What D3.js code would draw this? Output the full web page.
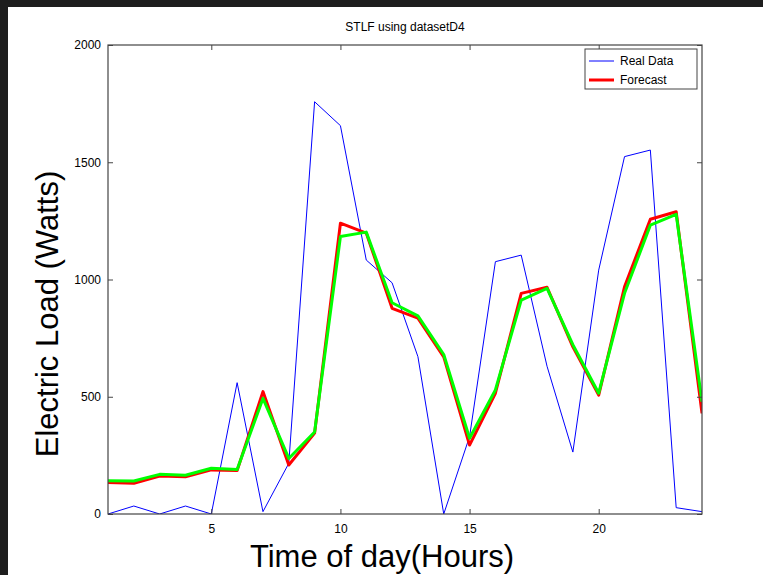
<!DOCTYPE html>
<html>
<head>
<meta charset="utf-8">
<script src="https://cdn.jsdelivr.net/npm/d3@7"></script>
<style>
  html, body { margin: 0; padding: 0; background: #1e1e1e; }
  #chart { display: block; }
  text { font-family: "Liberation Sans", Arial, sans-serif; fill: #000; }
</style>
</head>
<body>
<svg id="chart" width="763" height="575"></svg>
<script>
// STLF line chart: real load vs two forecasts, hours 1..24.

const hours = d3.range(1, 25);
const realData = [0, 34, 0, 34, 0, 560, 10, 216, 1758, 1656, 1083, 986,
                  671, 0, 330, 1076, 1104, 630, 264, 1040, 1524, 1552, 27, 10];
const forecast = [134, 131, 162, 159, 188, 185, 522, 209, 345, 1240, 1198, 877,
                  835, 670, 294, 515, 941, 967, 713, 507, 969, 1257, 1289, 429];
const forecast2 = [142, 141, 169, 165, 195, 190, 493, 237, 350, 1183, 1202, 901,
                   845, 680, 323, 529, 912, 962, 722, 515, 941, 1232, 1278, 479];
const xTicks = [5, 10, 15, 20];
const yTicks = [0, 500, 1000, 1500, 2000];

const svg = d3.select('#chart');
const W = 763, H = 575;

// light page with the dark frame strip on top / left
svg.append('rect').attr('x', 8).attr('y', 7).attr('width', W - 8).attr('height', H - 7).attr('fill', '#fff');

const m = { left: 108, right: 702, top: 45, bottom: 514 };
const x = d3.scaleLinear().domain([1, 24]).range([m.left, m.right]);
const y = d3.scaleLinear().domain([0, 2000]).range([m.bottom, m.top]);

const g = svg.append('g');

// clip lines to the axes box
svg.append('clipPath').attr('id', 'plotclip')
  .append('rect').attr('x', m.left).attr('y', m.top)
  .attr('width', m.right - m.left).attr('height', m.bottom - m.top);

const line = d3.line().x((d, i) => x(hours[i])).y(d => y(d));
const lines = g.append('g').attr('clip-path', 'url(#plotclip)');
lines.append('path').datum(realData).attr('d', line)
  .attr('fill', 'none').attr('stroke', '#0000ff').attr('stroke-width', 1);
lines.append('path').datum(forecast).attr('d', line)
  .attr('fill', 'none').attr('stroke', '#ff0000').attr('stroke-width', 3)
  .attr('stroke-linejoin', 'round');
lines.append('path').datum(forecast2).attr('d', line)
  .attr('fill', 'none').attr('stroke', '#00ff00').attr('stroke-width', 3)
  .attr('stroke-linejoin', 'round');

// axes: ticks pointing inward, MATLAB style
const axisColor = '#444';
const tk = 5;
const fmt = d3.format('d');
const axB = d3.axisBottom(x).tickValues(xTicks).tickSize(-tk).tickPadding(10).tickSizeOuter(0).tickFormat(fmt);
const axT = d3.axisTop(x).tickValues(xTicks).tickSize(-tk).tickFormat('').tickSizeOuter(0);
const axL = d3.axisLeft(y).tickValues(yTicks).tickSize(-tk).tickPadding(7).tickSizeOuter(0).tickFormat(fmt);
const axR = d3.axisRight(y).tickValues(yTicks).tickSize(-tk).tickFormat('').tickSizeOuter(0);

function styleAxis(sel) {
  sel.select('.domain').remove();
  sel.selectAll('line').attr('stroke', axisColor);
  sel.selectAll('text').attr('font-size', 12).attr('fill', '#222')
    .attr('font-family', '"Liberation Sans", Arial, sans-serif');
}
g.append('g').attr('transform', `translate(0,${m.bottom})`).call(axB).call(styleAxis);
g.append('g').attr('transform', `translate(0,${m.top})`).call(axT).call(styleAxis);
g.append('g').attr('transform', `translate(${m.left},0)`).call(axL).call(styleAxis);
g.append('g').attr('transform', `translate(${m.right},0)`).call(axR).call(styleAxis);

g.append('rect').attr('x', m.left).attr('y', m.top)
  .attr('width', m.right - m.left).attr('height', m.bottom - m.top)
  .attr('fill', 'none').attr('stroke', axisColor).attr('stroke-width', 1.2);

// title and axis labels
svg.append('text').attr('x', (m.left + m.right) / 2).attr('y', 31)
  .attr('text-anchor', 'middle').attr('font-size', 12).text('STLF using datasetD4');
svg.append('text').attr('x', 382).attr('y', 567)
  .attr('text-anchor', 'middle').attr('font-size', 31).text('Time of day(Hours)');
svg.append('text').attr('transform', 'translate(58,314) rotate(-90)')
  .attr('text-anchor', 'middle').attr('font-size', 31).text('Electric Load (Watts)');

// legend
const lg = svg.append('g').attr('transform', 'translate(585,49)');
lg.append('rect').attr('width', 112).attr('height', 40)
  .attr('fill', '#fff').attr('stroke', axisColor).attr('stroke-width', 1);
const items = [
  { label: 'Real Data', color: '#0000ff', w: 1 },
  { label: 'Forecast', color: '#ff0000', w: 3 },
];
items.forEach((it, i) => {
  const yy = 12 + i * 19;
  lg.append('line').attr('x1', 4).attr('x2', 29).attr('y1', yy).attr('y2', yy)
    .attr('stroke', it.color).attr('stroke-width', it.w);
  lg.append('text').attr('x', 35).attr('y', yy + 4).attr('font-size', 12).text(it.label);
});
</script>
</body>
</html>
